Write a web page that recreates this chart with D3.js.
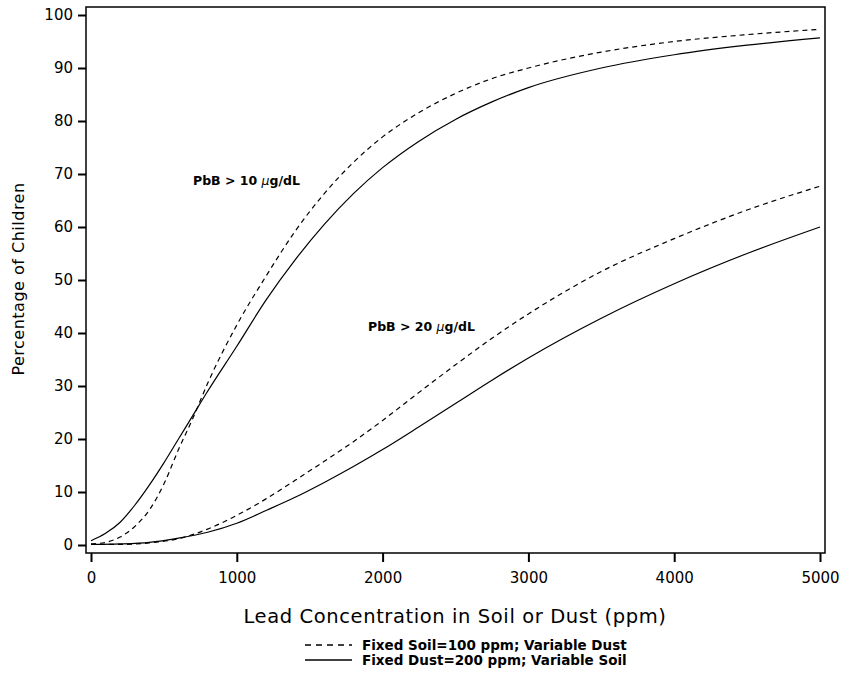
<!DOCTYPE html>
<html>
<head>
<meta charset="utf-8">
<script src="https://cdn.jsdelivr.net/npm/d3@7"></script>
<style>
  body { margin: 0; background: #fff; }
  text { font-family: "DejaVu Sans", sans-serif; fill: #000; }
</style>
</head>
<body>
<svg id="chart" width="841" height="676"></svg>
<script>
var ppm10 = [0,100,200,300,400,500,600,700,800,1000,1200,1400,1600,1800,2000,2250,2500,2750,3000,3500,4000,4500,5000];
var ppm20 = [0,200,400,600,800,1000,1200,1400,1600,1800,2000,2250,2500,2750,3000,3500,4000,4500,5000];

// PbB > 10 ug/dL
var dust10 = [0.2,0.5,1.5,3.5,6.6,11.5,18,24,30.5,41.5,50.7,59.2,66.3,72.2,77.0,81.6,85.2,88,90,93,95,96.3,97.3];
var soil10 = [0.8,2.2,4.3,7.5,11.3,15.5,20,24.5,29,37.5,46.2,53.8,60.5,66.3,71.2,76.2,80.3,83.6,86.3,90,92.5,94.3,95.7];
// PbB > 20 ug/dL
var dust20 = [0.1,0.1,0.4,1.2,3,5.6,8.7,12.2,15.8,19.5,23.5,28.8,34.0,39.0,43.6,51.6,57.8,63.2,67.7];
var soil20 = [0.1,0.2,0.5,1.3,2.4,4.1,6.5,9.0,11.8,14.8,18,22.3,26.7,31.1,35.3,42.8,49.3,55,60];

var xTicks = [0,1000,2000,3000,4000,5000];
var yTicks = [0,10,20,30,40,50,60,70,80,90,100];

var legendLabels = ["Fixed Soil=100 ppm; Variable Dust", "Fixed Dust=200 ppm; Variable Soil"];

var svg = d3.select("#chart");

var x = d3.scaleLinear().domain([0,5000]).range([91,820]);
var y = d3.scaleLinear().domain([0,100]).range([545,15]);

// frame
svg.append("rect")
    .attr("x",86).attr("y",7).attr("width",739).attr("height",546)
    .attr("fill","none").attr("stroke","#000").attr("stroke-width",1.5);

// axes
var xAxis = svg.append("g").attr("transform","translate(0,553)")
    .call(d3.axisBottom(x).tickValues(xTicks).tickFormat(d3.format("d")).tickSize(9).tickPadding(10));
var yAxis = svg.append("g").attr("transform","translate(86,0)")
    .call(d3.axisLeft(y).tickValues(yTicks).tickSize(8).tickPadding(5));

[xAxis,yAxis].forEach(function(g){
    g.select(".domain").remove();
    g.selectAll(".tick line").attr("stroke","#000").attr("stroke-width",2);
    g.selectAll(".tick text").style("font-size","15px").style("font-family","DejaVu Sans, sans-serif");
});

// curves
var line = d3.line().curve(d3.curveMonotoneX)
    .x(function(d){ return x(d[0]); })
    .y(function(d){ return y(d[1]); });

var series = [
    {xs: ppm10, ys: dust10, dash: "5,4"},
    {xs: ppm10, ys: soil10, dash: null},
    {xs: ppm20, ys: dust20, dash: "5,4"},
    {xs: ppm20, ys: soil20, dash: null}
];

series.forEach(function(s){
    svg.append("path")
        .datum(d3.zip(s.xs, s.ys))
        .attr("d", line)
        .attr("fill","none")
        .attr("stroke","#000")
        .attr("stroke-width",1.2)
        .attr("stroke-dasharray", s.dash);
});

// annotations
function pbLabel(px,py,lvl){
    var t = svg.append("text").attr("x",px).attr("y",py).style("font-size","12.5px").style("font-weight","bold");
    t.append("tspan").text("PbB > " + lvl + " ");
    t.append("tspan").style("font-style","italic").style("font-weight","normal").text("\u03bc");
    t.append("tspan").text("g/dL");
}
pbLabel(193,185,10);
pbLabel(368,331,20);

// axis titles
svg.append("text")
    .attr("transform","translate(24,279) rotate(-90)")
    .attr("text-anchor","middle")
    .style("font-size","16px")
    .style("letter-spacing","0.5px")
    .text("Percentage of Children");

svg.append("text")
    .attr("x",455).attr("y",623)
    .attr("text-anchor","middle")
    .style("font-size","19.5px")
    .style("letter-spacing","0.6px")
    .text("Lead Concentration in Soil or Dust (ppm)");

// legend
var leg = svg.append("g");
legendLabels.forEach(function(lab,i){
    var ly = 645 + i*15;
    leg.append("line")
        .attr("x1",305).attr("x2",352).attr("y1",ly).attr("y2",ly)
        .attr("stroke","#000").attr("stroke-width",1.3)
        .attr("stroke-dasharray", i==0 ? "6,5" : null);
    leg.append("text")
        .attr("x",362).attr("y",ly+5)
        .style("font-size","13.5px").style("font-weight","bold")
        .text(lab);
});
</script>
</body>
</html>
